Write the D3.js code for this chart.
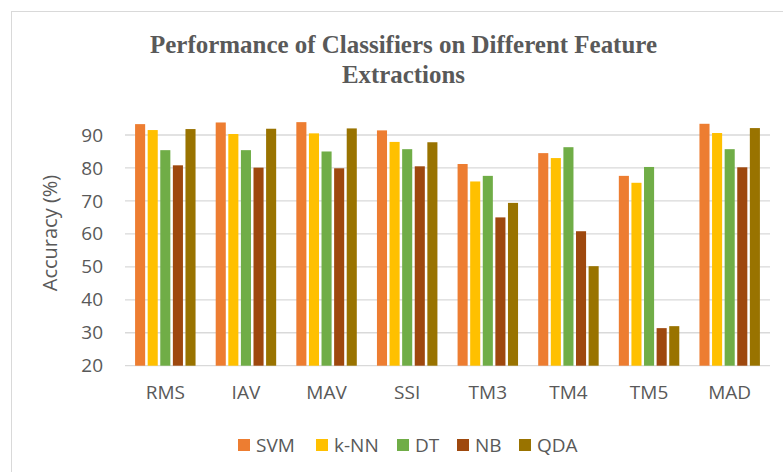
<!DOCTYPE html>
<html>
<head>
<meta charset="utf-8">
<script src="https://cdn.jsdelivr.net/npm/d3@7"></script>
<style>
  body { margin: 0; background: #fff; }
  text { font-family: "Open Sans", sans-serif; fill: #595959; }
</style>
</head>
<body>
<svg class="chart"></svg>
<script>
// feature extraction methods
var categories = ["RMS", "IAV", "MAV", "SSI", "TM3", "TM4", "TM5", "MAD"];
var seriesNames = ["SVM", "k-NN", "DT", "NB", "QDA"];
// accuracy (%)
var svm = [93.3, 93.8, 93.9, 91.4, 81.2, 84.5, 77.6, 93.4];
var knn = [91.5, 90.3, 90.5, 87.9, 75.9, 83.0, 75.5, 90.6];
var dt  = [85.4, 85.4, 85.0, 85.7, 77.6, 86.3, 80.3, 85.7];
var nb  = [80.8, 80.1, 79.9, 80.5, 65.0, 60.8, 31.4, 80.2];
var qda = [91.8, 91.9, 92.0, 87.8, 69.4, 50.2, 32.0, 92.1];
var yTicks = [20, 30, 40, 50, 60, 70, 80, 90];

var colors = ["#ED7D31", "#FFC000", "#70AD47", "#9E480E", "#997300"];
var allSeries = [svm, knn, dt, nb, qda];

var width = 783, height = 472;
// plot area (window.top is reserved, so plotTop etc.)
var plotLeft = 125, plotRight = 770, plotTop = 135, plotBottom = 365.7;

var chart = d3.select(".chart").attr("width", width).attr("height", height);

// outer frame (runs off the picture on the right and bottom)
chart.append("rect")
    .attr("x", 11.5).attr("y", 11.5)
    .attr("width", 800).attr("height", 500)
    .attr("fill", "none").attr("stroke", "#D9D9D9");

// title
chart.append("text")
    .attr("x", 403.5).attr("y", 53)
    .attr("text-anchor", "middle")
    .attr("textLength", 507).attr("lengthAdjust", "spacingAndGlyphs")
    .style("font-family", "'Liberation Serif', 'Times New Roman', serif")
    .style("font-weight", "bold").style("font-size", "25px")
    .text("Performance of Classifiers on Different Feature");
chart.append("text")
    .attr("x", 403.5).attr("y", 83)
    .attr("text-anchor", "middle")
    .attr("textLength", 123).attr("lengthAdjust", "spacingAndGlyphs")
    .style("font-family", "'Liberation Serif', 'Times New Roman', serif")
    .style("font-weight", "bold").style("font-size", "25px")
    .text("Extractions");

var y = d3.scaleLinear().domain([20, 90]).range([plotBottom, plotTop]);
var x0 = d3.scaleBand().domain(categories).range([plotLeft, plotRight])
    .paddingInner(0.25).paddingOuter(0.125);
var x1 = d3.scaleBand().domain(seriesNames).range([0, x0.bandwidth()])
    .paddingInner(0.2);

// gridlines
chart.append("g").selectAll("line")
    .data(yTicks)
  .enter().append("line")
    .attr("x1", plotLeft).attr("x2", plotRight)
    .attr("y1", function(d){ return y(d); })
    .attr("y2", function(d){ return y(d); })
    .attr("stroke", "#D9D9D9").attr("stroke-width", 1.3);

// y labels
var yAxis = d3.axisLeft(y).tickValues(yTicks).tickSize(0).tickPadding(0);
var yg = chart.append("g").attr("transform", "translate(103,0)").call(yAxis);
yg.select(".domain").remove();
yg.selectAll("text").style("font-size", "19px").style("fill", "#595959")
    .style("font-family", "'Open Sans', sans-serif");

// x labels
var xAxis = d3.axisBottom(x0).tickSize(0).tickPadding(0);
var xg = chart.append("g").attr("transform", "translate(0,385)").call(xAxis);
xg.select(".domain").remove();
xg.selectAll("text").style("font-size", "19px").style("fill", "#595959")
    .style("font-family", "'Open Sans', sans-serif");

// y title
chart.append("text")
    .attr("transform", "translate(57,233) rotate(-90)")
    .attr("text-anchor", "middle")
    .style("font-size", "20px")
    .text("Accuracy (%)");

// bars
var groups = chart.selectAll("g.cat")
    .data(categories)
  .enter().append("g")
    .attr("class", "cat")
    .attr("transform", function(d){ return "translate(" + x0(d) + ",0)"; });

groups.selectAll("rect")
    .data(function(d, i){
        return allSeries.map(function(s, j){ return {name: seriesNames[j], value: s[i], color: colors[j]}; });
    })
  .enter().append("rect")
    .attr("x", function(d){ return x1(d.name); })
    .attr("y", function(d){ return y(d.value); })
    .attr("width", x1.bandwidth())
    .attr("height", function(d){ return plotBottom - y(d.value); })
    .attr("fill", function(d){ return d.color; });

// legend
var legendX = [238, 316, 397, 457, 519];
var legend = chart.selectAll("g.leg")
    .data(seriesNames)
  .enter().append("g")
    .attr("class", "leg")
    .attr("transform", function(d, i){ return "translate(" + legendX[i] + ",439)"; });
legend.append("rect")
    .attr("width", 12).attr("height", 12)
    .attr("fill", function(d, i){ return colors[i]; });
legend.append("text")
    .attr("x", 18).attr("y", 6).attr("dy", "0.35em")
    .style("font-size", "19px")
    .text(function(d){ return d; });
</script>
</body>
</html>
